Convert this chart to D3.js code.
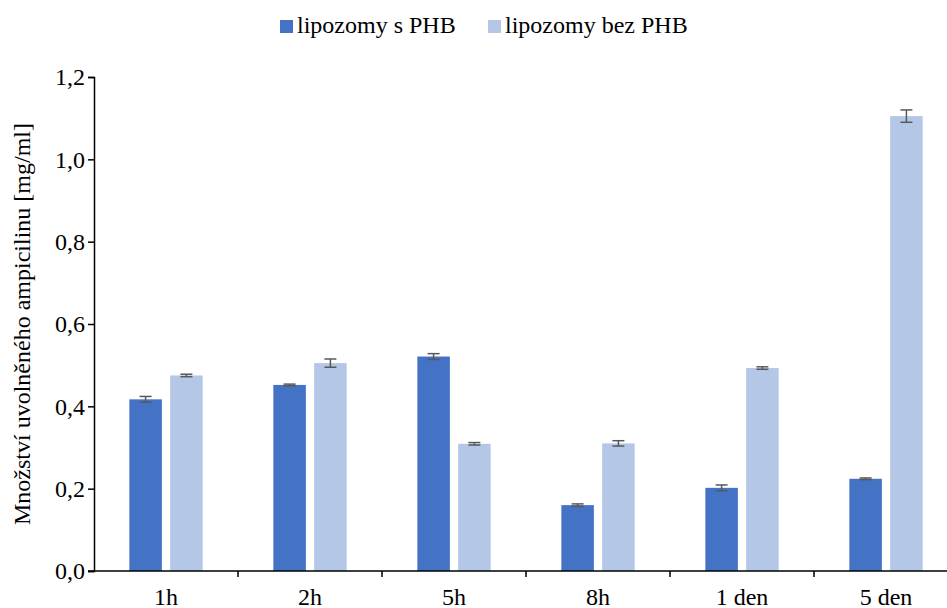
<!DOCTYPE html>
<html>
<head>
<meta charset="utf-8">
<script src="https://cdn.jsdelivr.net/npm/d3@7"></script>
<style>
    body { margin: 0; background: #fff; }
    svg text { font-family: "Liberation Serif", "Times New Roman", serif; fill: #000; }
</style>
</head>
<body>
<div id="viz"></div>
<script>
let categories = ['1h', '2h', '5h', '8h', '1 den', '5 den'];
let series = ['lipozomy s PHB', 'lipozomy bez PHB'];
let withPHB = [0.417, 0.452, 0.521, 0.160, 0.202, 0.224];
let withoutPHB = [0.475, 0.505, 0.309, 0.310, 0.493, 1.105];
let errWithPHB = [0.007, 0.002, 0.007, 0.003, 0.007, 0.002];
let errWithoutPHB = [0.003, 0.010, 0.003, 0.0065, 0.003, 0.015];
let yTicks = [0, 0.2, 0.4, 0.6, 0.8, 1.0, 1.2];
let colors = ['#4472C4', '#B4C7E7'];

let width = 947, height = 608;
let margin = {top: 77, left: 94, bottom: 37};
let fontSize = '24px';

let svg = d3.select('#viz').append('svg')
    .attr('width', width)
    .attr('height', height);

let x = d3.scaleBand()
    .domain(categories)
    .range([margin.left, margin.left + 144 * categories.length]);

let y = d3.scaleLinear()
    .domain([0, 1.2])
    .range([height - margin.bottom, margin.top]);

// group layout inside each band
let barW = 32.5, barGap = 8.3;
let groupOffset = (x.bandwidth() - (2 * barW + barGap)) / 2;

let rows = [];
categories.forEach((c, i) => {
    rows.push({cat: c, s: 0, v: withPHB[i], e: errWithPHB[i]});
    rows.push({cat: c, s: 1, v: withoutPHB[i], e: errWithoutPHB[i]});
});

let barX = d => x(d.cat) + groupOffset + d.s * (barW + barGap);

svg.selectAll('.bar')
    .data(rows)
    .enter()
    .append('rect')
    .attr('class', 'bar')
    .attr('x', barX)
    .attr('y', d => y(d.v))
    .attr('width', barW)
    .attr('height', d => y(0) - y(d.v))
    .attr('fill', d => colors[d.s]);

// error bars
let err = svg.selectAll('.err')
    .data(rows)
    .enter()
    .append('g')
    .attr('class', 'err')
    .attr('stroke', '#595959')
    .attr('stroke-width', 1.5);

err.append('line')
    .attr('x1', d => barX(d) + barW / 2)
    .attr('x2', d => barX(d) + barW / 2)
    .attr('y1', d => y(d.v - d.e))
    .attr('y2', d => y(d.v + d.e));
err.append('line')
    .attr('x1', d => barX(d) + barW / 2 - 6)
    .attr('x2', d => barX(d) + barW / 2 + 6)
    .attr('y1', d => y(d.v + d.e))
    .attr('y2', d => y(d.v + d.e));
err.append('line')
    .attr('x1', d => barX(d) + barW / 2 - 6)
    .attr('x2', d => barX(d) + barW / 2 + 6)
    .attr('y1', d => y(d.v - d.e))
    .attr('y2', d => y(d.v - d.e));

// y axis
let yAxis = svg.append('g')
    .attr('transform', 'translate(' + margin.left + ',0)')
    .call(d3.axisLeft(y).tickValues(yTicks).tickSize(6).tickPadding(3)
        .tickFormat(d => d3.format('.1f')(d).replace('.', ',')));
yAxis.select('.domain').attr('stroke', '#000').attr('stroke-width', 1.5);
yAxis.selectAll('.tick line').attr('stroke', '#000').attr('stroke-width', 1.5);
yAxis.selectAll('text').style('font-size', fontSize).attr('dy', '0.33em');

// x axis: ticks sit between categories
let xAxisG = svg.append('g')
    .attr('transform', 'translate(0,' + y(0) + ')');
xAxisG.append('line')
    .attr('x1', margin.left - 6)
    .attr('x2', width)
    .attr('stroke', '#000')
    .attr('stroke-width', 1.5);
xAxisG.selectAll('.xtick')
    .data(categories.slice(1))
    .enter()
    .append('line')
    .attr('x1', d => x(d))
    .attr('x2', d => x(d))
    .attr('y1', 0)
    .attr('y2', 6)
    .attr('stroke', '#000')
    .attr('stroke-width', 1.5);
xAxisG.selectAll('.xlabel')
    .data(categories)
    .enter()
    .append('text')
    .attr('x', d => x(d) + x.bandwidth() / 2)
    .attr('y', 34)
    .attr('text-anchor', 'middle')
    .style('font-size', fontSize)
    .text(d => d);

// y axis title
svg.append('text')
    .attr('transform', 'translate(30,' + (margin.top + y(0)) / 2 + ') rotate(-90)')
    .attr('text-anchor', 'middle')
    .style('font-size', fontSize)
    .text('Množství uvolněného ampicilinu [mg/ml]');

// legend
let legendX = [280, 488];
let legend = svg.selectAll('.legend')
    .data(series)
    .enter()
    .append('g')
    .attr('class', 'legend')
    .attr('transform', (d, i) => 'translate(' + legendX[i] + ',20)');
legend.append('rect')
    .attr('width', 13)
    .attr('height', 13)
    .attr('fill', (d, i) => colors[i]);
legend.append('text')
    .attr('x', 17)
    .attr('y', 13)
    .style('font-size', fontSize)
    .text(d => d);
</script>
</body>
</html>
